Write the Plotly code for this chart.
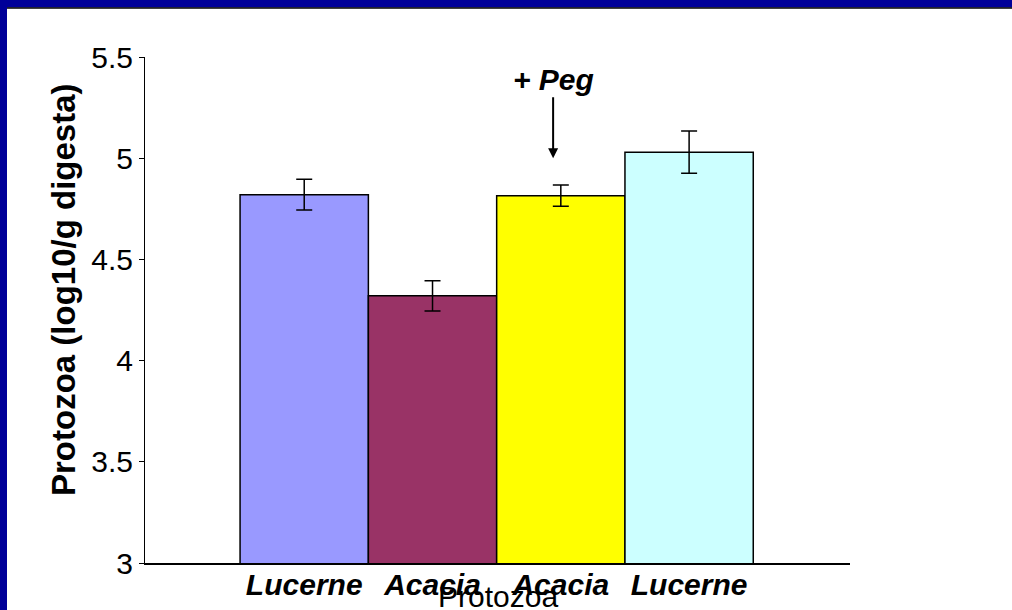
import plotly.graph_objects as go

# Data
diets = ["Lucerne", "Acacia", "Acacia", "Lucerne"]
protozoa = [4.82, 4.32, 4.815, 5.03]
errors = [0.076, 0.075, 0.052, 0.104]
colors = ["#9999FF", "#993366", "#FFFF00", "#CCFFFF"]
y_ticks = [3, 3.5, 4, 4.5, 5, 5.5]

W, H = 1012, 610
L, R, T, B = 145, 162, 57, 47
PW, PH = W - L - R, H - T - B


def px(x):
    return (x - L) / PW


def py(y):
    return (H - B - y) / PH


FONT = "Liberation Sans, Arial, sans-serif"

positions = list(range(len(diets)))

fig = go.Figure(go.Bar(
    x=positions,
    y=protozoa,
    width=1,
    base=0,
    marker=dict(color=colors, line=dict(color="black", width=1.5)),
    error_y=dict(type="data", array=errors, color="black", thickness=1.5, width=8),
    showlegend=False,
))

fig.update_layout(
    width=W,
    height=H,
    margin=dict(l=L, r=R, t=T, b=B, pad=0),
    paper_bgcolor="white",
    plot_bgcolor="white",
    font=dict(family=FONT, color="black"),
    xaxis=dict(
        range=[-1.241, 4.254],
        tickvals=positions,
        ticktext=diets,
        tickfont=dict(size=30, weight="bold", style="italic"),
        ticks="",
        ticklabelstandoff=-6,
        automargin=False,
        showline=True,
        linecolor="black",
        linewidth=1.5,
        showgrid=False,
        zeroline=False,
    ),
    yaxis=dict(
        range=[3, 5.5],
        tickvals=y_ticks,
        tickfont=dict(size=30),
        ticks="outside",
        ticklen=5,
        tickcolor="black",
        automargin=False,
        showline=True,
        linecolor="black",
        linewidth=1,
        showgrid=False,
        zeroline=False,
    ),
    annotations=[
        dict(text="Protozoa (log10/g digesta)", textangle=-90, xref="paper", yref="paper",
             x=px(63), y=py(290), xanchor="center", yanchor="middle", showarrow=False,
             font=dict(size=33, weight="bold")),
        dict(text="Protozoa", xref="paper", yref="paper", x=0.5, y=py(578),
             xanchor="center", yanchor="top", showarrow=False, font=dict(size=30)),
        dict(text="+ Peg", xref="x", yref="y", x=1.94, y=5.0, ax=0, ay=-79,
             showarrow=True, arrowhead=2, arrowsize=1, arrowwidth=2, arrowcolor="black",
             font=dict(size=30, weight="bold", style="italic")),
    ],
    shapes=[
        dict(type="rect", xref="paper", yref="paper", x0=px(0), x1=px(W), y0=py(7.5), y1=py(0),
             fillcolor="#000099", line=dict(width=0), layer="above"),
        dict(type="line", xref="paper", yref="paper", x0=px(0), x1=px(W), y0=py(8), y1=py(8),
             line=dict(color="black", width=1.5)),
        dict(type="rect", xref="paper", yref="paper", x0=px(0), x1=px(7), y0=py(H), y1=py(0),
             fillcolor="#000099", line=dict(width=0), layer="above"),
    ],
)

fig.write_html(
    "out.html",
    config={"displayModeBar": False},
    post_script="document.body.style.margin='0';document.body.style.overflow='hidden';",
)
